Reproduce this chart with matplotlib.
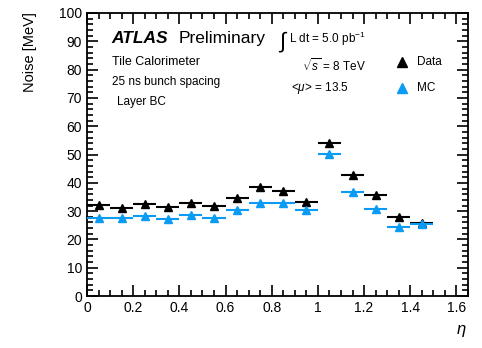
import matplotlib
matplotlib.use('Agg')
import numpy as np
import matplotlib.pyplot as plt
from matplotlib.ticker import MultipleLocator

plt.rcParams['font.family'] = ['Liberation Sans', 'DejaVu Sans']
plt.rcParams['mathtext.fontset'] = 'custom'
plt.rcParams['mathtext.rm'] = 'Liberation Sans'
plt.rcParams['mathtext.it'] = 'Liberation Sans:italic'

# eta bin centres (bin width 0.1)
eta = [0.05, 0.15, 0.25, 0.35, 0.45, 0.55, 0.65, 0.75, 0.85, 0.95,
       1.05, 1.15, 1.25, 1.35, 1.45]
noise_data = [32.2, 31.0, 32.7, 31.6, 33.0, 31.8, 34.5, 38.6, 37.1, 33.3,
              54.0, 42.8, 35.7, 28.0, 25.8]
noise_mc = [27.7, 27.5, 28.3, 27.1, 28.6, 27.5, 30.4, 33.0, 33.0, 30.4,
            50.2, 36.7, 30.6, 24.5, 25.4]
half_width = 0.05
blue = '#0a9bf5'

fig = plt.figure(figsize=(4.82, 3.48), dpi=100)
ax = fig.add_axes([0.1805, 0.149, 0.7905, 0.814])

ax.errorbar(eta, noise_data, xerr=half_width, fmt='^', color='black',
            ms=6, elinewidth=1.5, capsize=0, zorder=3)
ax.errorbar(eta, noise_mc, xerr=half_width, fmt='^', color=blue,
            ms=6, elinewidth=1.5, capsize=0, zorder=4)

ax.set_xlim(0, 1.65)
ax.set_ylim(0, 100)
ax.xaxis.set_major_locator(MultipleLocator(0.2))
ax.xaxis.set_minor_locator(MultipleLocator(0.05))
ax.yaxis.set_major_locator(MultipleLocator(10))
ax.yaxis.set_minor_locator(MultipleLocator(2))
ax.set_xticks(np.arange(0, 1.61, 0.2))
ax.set_xticklabels(['0', '0.2', '0.4', '0.6', '0.8', '1', '1.2', '1.4', '1.6'])
ax.tick_params(which='both', direction='in', top=True, right=True,
               labelsize=10, width=1.2)
ax.tick_params(which='major', length=8)
ax.tick_params(which='minor', length=4)
for s in ax.spines.values():
    s.set_linewidth(1.3)

ax.set_ylabel('Noise [MeV]', fontsize=10.5)
ax.yaxis.set_label_coords(-0.13, 0.86)
fig.text(0.968, 0.025, r'$\eta$', fontsize=12, ha='right', va='bottom')

# labels
ax.text(0.065, 0.895, 'ATLAS', transform=ax.transAxes, fontsize=12.5,
        fontweight='bold', style='italic')
ax.text(0.24, 0.895, 'Preliminary', transform=ax.transAxes, fontsize=12.5)
ax.text(0.065, 0.815, 'Tile Calorimeter', transform=ax.transAxes, fontsize=9)
ax.text(0.065, 0.745, '25 ns bunch spacing', transform=ax.transAxes, fontsize=8.5)
ax.text(0.08, 0.675, 'Layer BC', transform=ax.transAxes, fontsize=8.5)

ax.text(0.5, 0.875, r'$\int$', transform=ax.transAxes, fontsize=16)
ax.text(0.53, 0.895, r'L dt = 5.0 pb$^{-1}$', transform=ax.transAxes,
        fontsize=8.5)
ax.text(0.565, 0.795, r'$\sqrt{s}$ = 8 TeV', transform=ax.transAxes, fontsize=8.5)
ax.text(0.535, 0.725, r'<$\mu$> = 13.5', transform=ax.transAxes, fontsize=8.5)

# legend
ax.plot([0.828], [0.825], '^', color='black', ms=7, transform=ax.transAxes)
ax.plot([0.828], [0.735], '^', color=blue, ms=7, transform=ax.transAxes)
ax.text(0.865, 0.825, 'Data', transform=ax.transAxes, fontsize=8.5, va='center')
ax.text(0.865, 0.735, 'MC', transform=ax.transAxes, fontsize=8.5, va='center')

fig.savefig('out.png', dpi=100)
